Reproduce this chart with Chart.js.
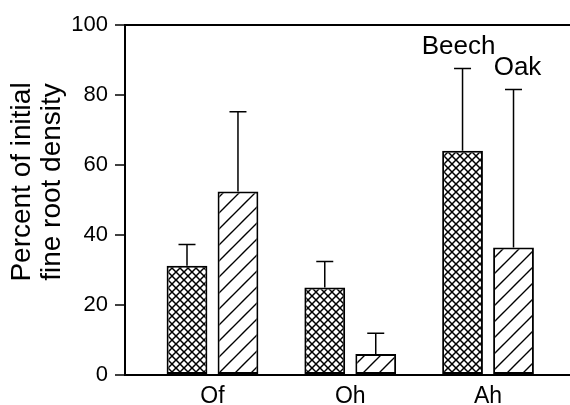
<!DOCTYPE html>
<html>
<head>
<meta charset="utf-8">
<script src="https://cdn.jsdelivr.net/npm/chart.js@4/dist/chart.umd.min.js"></script>
<style>
  html, body { margin: 0; padding: 0; background: #fff; }
  #wrap { width: 570px; height: 405px; }
</style>
</head>
<body>
<div id="wrap"><canvas id="rootChart" width="570" height="405"></canvas></div>
<script>
// datos
const categories = ['Of', 'Oh', 'Ah'];
const seriesNames = ['Beech', 'Oak'];
const beechMean = [31.2, 25.0, 64.1];
const beechErr = [6.1, 7.4, 23.5];
const oakMean = [52.4, 6.0, 36.4];
const oakErr = [22.8, 5.9, 45.2];
const yTicks = [0, 20, 40, 60, 80, 100];
const yTitle = ['Percent of initial', 'fine root density'];

const positions = categories.map((c, i) => i + 1);
const FONT = '"Liberation Sans", Arial, sans-serif';

// patrones de relleno
function crossHatch() {
    const c = document.createElement('canvas');
    c.width = 8; c.height = 8;
    const g = c.getContext('2d');
    g.fillStyle = '#fff';
    g.fillRect(0, 0, 8, 8);
    g.strokeStyle = '#000';
    g.lineWidth = 1.5;
    g.beginPath();
    g.moveTo(0, 0); g.lineTo(8, 8);
    g.moveTo(8, 0); g.lineTo(0, 8);
    g.stroke();
    return g.createPattern(c, 'repeat');
}

function diagHatch() {
    const s = 16;
    const c = document.createElement('canvas');
    c.width = s; c.height = s;
    const g = c.getContext('2d');
    g.fillStyle = '#fff';
    g.fillRect(0, 0, s, s);
    g.strokeStyle = '#000';
    g.lineWidth = 1.4;
    g.beginPath();
    g.moveTo(-2, s + 2); g.lineTo(s + 2, -2);
    g.moveTo(-2, 2); g.lineTo(2, -2);
    g.moveTo(s - 2, s + 2); g.lineTo(s + 2, s - 2);
    g.stroke();
    return g.createPattern(c, 'repeat');
}

// barras de error (solo hacia arriba)
const errorBars = {
    id: 'errorBars',
    afterDatasetsDraw(chart) {
        const ctx = chart.ctx;
        const yScale = chart.scales.y;
        const errs = [beechErr, oakErr];
        const means = [beechMean, oakMean];
        ctx.save();
        ctx.strokeStyle = '#000';
        ctx.lineWidth = 1.5;
        chart.data.datasets.forEach((ds, di) => {
            chart.getDatasetMeta(di).data.forEach((bar, i) => {
                const yTop = yScale.getPixelForValue(means[di][i] + errs[di][i]);
                ctx.beginPath();
                ctx.moveTo(bar.x, bar.y);
                ctx.lineTo(bar.x, yTop);
                ctx.moveTo(bar.x - 8.5, yTop);
                ctx.lineTo(bar.x + 8.5, yTop);
                ctx.stroke();
            });
        });
        ctx.restore();
    }
};

// nombres de las series sobre el grupo Ah
const seriesLabels = {
    id: 'seriesLabels',
    afterDraw(chart) {
        const ctx = chart.ctx;
        const yScale = chart.scales.y;
        const last = categories.length - 1;
        const errs = [beechErr, oakErr];
        const means = [beechMean, oakMean];
        const shift = [-4, 4];
        ctx.save();
        ctx.fillStyle = '#000';
        ctx.font = '26px ' + FONT;
        ctx.textAlign = 'center';
        ctx.textBaseline = 'alphabetic';
        seriesNames.forEach((name, di) => {
            const bar = chart.getDatasetMeta(di).data[last];
            const yTop = yScale.getPixelForValue(means[di][last] + errs[di][last]);
            ctx.fillText(name, bar.x + shift[di], yTop - 14);
        });
        ctx.restore();
    }
};

// titulo del eje Y en dos lineas
const yAxisTitle = {
    id: 'yAxisTitle',
    afterDraw(chart) {
        const ctx = chart.ctx;
        const area = chart.chartArea;
        const yScale = chart.scales.y;
        const cy = (area.top + area.bottom) / 2 - 18;
        ctx.save();
        ctx.fillStyle = '#000';
        ctx.font = '28px ' + FONT;
        ctx.textAlign = 'center';
        ctx.textBaseline = 'middle';
        yTitle.forEach((line, i) => {
            ctx.save();
            ctx.translate(yScale.left + 22 + i * 30, cy);
            ctx.rotate(-Math.PI / 2);
            ctx.fillText(line, 0, 0);
            ctx.restore();
        });
        ctx.restore();
    }
};

document.addEventListener('DOMContentLoaded', function() {
    const ctx = document.getElementById('rootChart').getContext('2d');
    const patterns = [crossHatch(), diagHatch()];
    const means = [beechMean, oakMean];

    new Chart(ctx, {
        type: 'bar',
        data: {
            datasets: seriesNames.map((name, di) => ({
                label: name,
                data: means[di].map((v, i) => ({ x: positions[i], y: v })),
                backgroundColor: patterns[di],
                borderColor: '#000',
                borderWidth: 2,
                borderSkipped: false,
                categoryPercentage: 0.74,
                barPercentage: 0.8
            }))
        },
        options: {
            responsive: false,
            animation: false,
            layout: { padding: { top: 25, right: 0, bottom: 0, left: 0 } },
            plugins: {
                legend: { display: false },
                tooltip: { enabled: false }
            },
            scales: {
                x: {
                    type: 'linear',
                    offset: false,
                    min: 0.365,
                    max: 3.595,
                    afterBuildTicks: s => { s.ticks = positions.map(v => ({ value: v })); },
                    afterFit: s => { s.height = 30; },
                    grid: { display: false, drawTicks: false, offset: false },
                    border: { display: true, color: '#000', width: 2 },
                    ticks: {
                        padding: 8,
                        color: '#000',
                        font: { family: FONT, size: 23 },
                        callback: v => categories[positions.indexOf(v)] || ''
                    }
                },
                y: {
                    min: yTicks[0],
                    max: yTicks[yTicks.length - 1],
                    afterBuildTicks: s => { s.ticks = yTicks.map(v => ({ value: v })); },
                    afterFit: s => { s.width = 125; },
                    grid: {
                        drawOnChartArea: true,
                        color: c => c.tick && c.tick.value === yTicks[yTicks.length - 1] ? '#000' : 'rgba(0,0,0,0)',
                        lineWidth: 2,
                        tickColor: '#000',
                        tickLength: 10,
                        tickWidth: 1.5
                    },
                    border: { display: true, color: '#000', width: 2 },
                    ticks: {
                        padding: 7,
                        color: '#000',
                        font: { family: FONT, size: 22 }
                    }
                }
            }
        },
        plugins: [errorBars, seriesLabels, yAxisTitle]
    });
});
</script>
</body>
</html>
